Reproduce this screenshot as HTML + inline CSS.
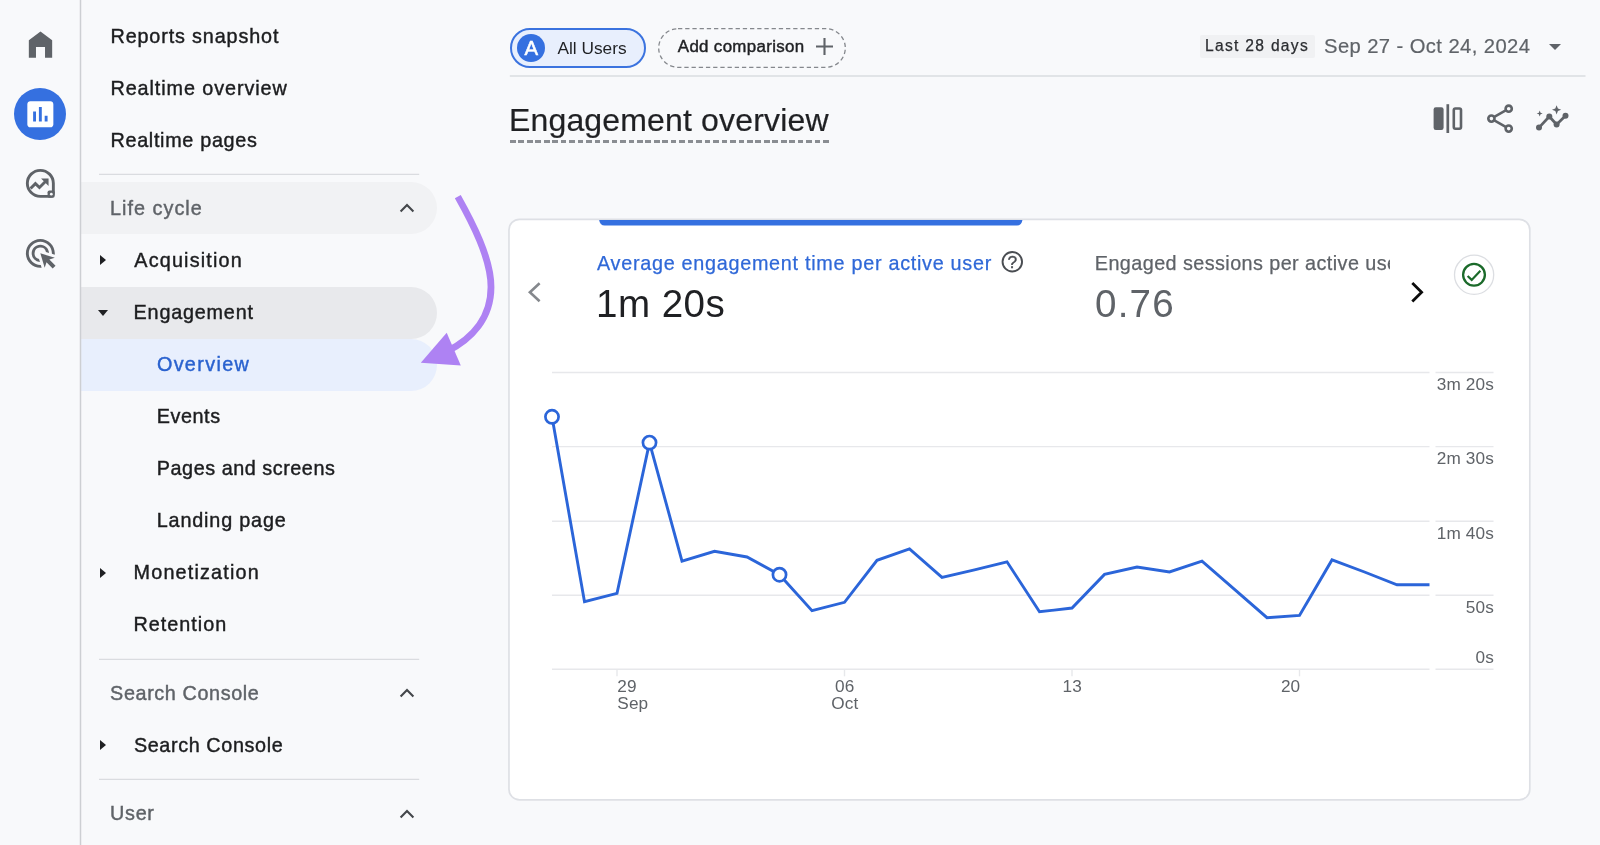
<!DOCTYPE html>
<html lang="en">
<head>
<meta charset="utf-8">
<title>Engagement overview</title>
<style>
*{box-sizing:border-box;margin:0;padding:0}
html,body{width:1600px;height:845px;overflow:hidden;background:#f8f9fb}
body{font-family:"Liberation Sans",Arial,sans-serif;color:#1f2023;position:relative;-webkit-font-smoothing:antialiased}
.abs{position:absolute}
#wrap{position:absolute;left:0;top:0;width:1600px;height:845px;will-change:transform}
/* ---------- left rail ---------- */
#rail{position:absolute;left:0;top:0;width:81px;height:845px;background:#f8f9fb}
#rail svg{position:absolute}
#rail .active{position:absolute;left:14px;top:88px;width:52px;height:52px;border-radius:50%;background:#3570e0}
/* ---------- sidebar ---------- */
#nav{position:absolute;left:81px;top:0;width:420px;height:845px}
.row{position:absolute;left:0;width:356px;height:52px;line-height:52px;font-size:19.8px;-webkit-text-stroke:.42px currentColor;white-space:nowrap;color:#1c1d1f;border-radius:0 26px 26px 0}
.row span{position:absolute;top:0}



.row.hdr{color:#5f6368}
.row.hdr.hov{background:#f1f2f4}
.row.open{background:#e8e9ec}
.row.sel{background:#e8effd;color:#2a62cf}
.tri{position:absolute;left:19px;top:21px;width:0;height:0;border-style:solid;border-width:5px 0 5px 6px;border-color:transparent transparent transparent #1f2023}
.tri.down{left:16.6px;top:23.3px;border-width:6px 5.2px 0 5.2px;border-color:#1f2023 transparent transparent transparent}
.chev{position:absolute;left:317.8px;top:18px;width:16px;height:16px}

/* ---------- main header ---------- */
#chipA{position:absolute;left:509.6px;top:27.8px;width:136.4px;height:39.8px;border-radius:19.9px;border:2px solid #3b73df;background:#e8effd}
#chipA .av{position:absolute;left:5.8px;top:4.6px;width:28px;height:28px;border-radius:50%;background:#3570e0;color:#fff;font-size:20.4px;line-height:28.4px;text-align:center;font-weight:400;-webkit-text-stroke:.5px #fff}
#chipA .t{position:absolute;left:45.8px;top:.6px;line-height:37.4px;font-size:17.3px;color:#1f2023;white-space:nowrap}
#chipB{position:absolute;left:658px;top:27.5px;width:188px;height:40px}
#chipB .t{position:absolute;left:19.8px;top:0;line-height:37.5px;font-size:16.9px;letter-spacing:.33px;color:#1f2023;white-space:nowrap;-webkit-text-stroke:.45px #1f2023}
#last{position:absolute;left:1200px;top:35px;width:115px;height:23px;background:#f0f1f3;border-radius:2px;font-size:15.6px;letter-spacing:1.3px;line-height:22px;color:#2b2d31;padding-left:5px;white-space:nowrap;-webkit-text-stroke:.25px #2b2d31}
#range{position:absolute;left:1324px;top:33px;font-size:20.2px;letter-spacing:.42px;line-height:26px;color:#5f6368;white-space:nowrap;-webkit-text-stroke:.2px #5f6368}
#caret{position:absolute;left:1548.8px;top:43.5px;width:0;height:0;border-style:solid;border-width:6px 6px 0 6px;border-color:#5f6368 transparent transparent transparent}
#title{position:absolute;left:509px;top:100px;font-size:32px;letter-spacing:.16px;-webkit-text-stroke:.2px #1c1d1f;line-height:40px;color:#1f2023;white-space:nowrap}
#tdash{position:absolute;left:510px;top:140.2px;width:319px;height:2.9px;background:repeating-linear-gradient(90deg,#8a8d92 0 5.64px,transparent 5.64px 8.465px)}

/* ---------- card ---------- */
.mlabel{position:absolute;top:250px;font-size:19.8px;-webkit-text-stroke:.25px currentColor;line-height:26px;white-space:nowrap}
.mval{position:absolute;top:280px;font-size:38.6px;line-height:48px;white-space:nowrap}
#chart text{font-family:"Liberation Sans",Arial,sans-serif;font-size:17.2px;fill:#5f6368;letter-spacing:.15px}
</style>
</head>
<body>
<div id="wrap">

<!-- ================= LEFT RAIL ================= -->
<div id="rail">
  <!-- home -->
  <svg style="left:23px;top:27px" width="35" height="35" viewBox="0 0 24 24"><path d="M4 21V9l8-6 8 6v12h-4.9v-7.3H8.9V21z" fill="#5f6368"/></svg>
  <!-- reports (active) -->
  <div class="active"></div>
  <svg style="left:22.7px;top:96.7px" width="34.7" height="34.7" viewBox="0 0 24 24"><path d="M19 3H5c-1.1 0-2 .9-2 2v14c0 1.1.9 2 2 2h14c1.1 0 2-.9 2-2V5c0-1.1-.9-2-2-2zM9 17H7v-7h2v7zm4 0h-2V7h2v10zm4 0h-2v-4h2v4z" fill="#fff"/></svg>
  <!-- explore -->
  <svg style="left:23.3px;top:166.2px" width="34.7" height="34.7" viewBox="0 0 24 24" fill="none" stroke="#5f6368" stroke-width="2">
    <path d="M12 3a9 9 0 1 0 0 18h7.2a1.8 1.8 0 0 0 1.8-1.8V12a9 9 0 0 0-9-9z"/>
    <rect x="17" y="17" width="4.9" height="4.9" rx="1.2" fill="#5f6368" stroke="none"/>
    <path d="M5.2 15.6L8.6 12.2l2.8 2.7 4.5-4.5" stroke-width="2"/>
    <path d="M12.5 8.7h5.2v5.2z" fill="#5f6368" stroke="none"/>
    <circle cx="19.6" cy="19.5" r="0.95" fill="#f8f9fb" stroke="none"/>
  </svg>
  <!-- advertising -->
  <svg style="left:23.3px;top:236px" width="34.7" height="34.7" viewBox="0 0 24 24"><path fill="#5f6368" d="M11.71 17.99A5.993 5.993 0 0 1 6 12c0-3.31 2.69-6 6-6 3.22 0 5.84 2.53 5.99 5.71l-2.1-.63a3.999 3.999 0 1 0-4.81 4.81l.63 2.1zM22 12c0 .3-.01.6-.04.9l-1.97-.59c.01-.1.01-.21.01-.31 0-4.42-3.58-8-8-8s-8 3.58-8 8 3.58 8 8 8c.1 0 .21 0 .31-.01l.59 1.97c-.3.03-.6.04-.9.04-5.52 0-10-4.48-10-10S6.480 2 12 2s10 4.480 10 10zm-3.770 4.260L22 15l-10-3 3 10 1.260-3.770 4.270 4.270 1.980-1.980-4.280-4.260z"/></svg>
</div>

<!-- ================= SIDEBAR NAV ================= -->
<div id="nav">
  <div class="row l0" style="top:10px"><span style="left:29.50px;top:0px;letter-spacing:0.856px">Reports snapshot</span></div>
  <div class="row l0" style="top:62px"><span style="left:29.50px;top:0px;letter-spacing:0.918px">Realtime overview</span></div>
  <div class="row l0" style="top:114px"><span style="left:29.50px;top:0px;letter-spacing:0.688px">Realtime pages</span></div>
  <div class="row l0 hdr hov" style="top:182.4px"><span style="left:29.00px;top:0px;letter-spacing:1.039px">Life cycle</span><svg class="chev" viewBox="0 0 16 16"><path d="M1.6 11.4l6.4-6.4 6.4 6.4" fill="none" stroke="#44474b" stroke-width="2.1"/></svg></div>
  <div class="row l1" style="top:234.4px"><i class="tri"></i><span style="left:53.30px;top:0px;letter-spacing:1.180px">Acquisition</span></div>
  <div class="row l1 open" style="top:286.5px"><i class="tri down"></i><span style="left:52.60px;top:-0.7px;letter-spacing:0.795px">Engagement</span></div>
  <div class="row l2 sel" style="top:338.6px"><span style="left:75.90px;top:-0.7px;letter-spacing:1.350px">Overview</span></div>
  <div class="row l2" style="top:390.4px"><span style="left:75.80px;top:0px;letter-spacing:0.550px">Events</span></div>
  <div class="row l2" style="top:442.4px"><span style="left:75.80px;top:0px;letter-spacing:0.544px">Pages and screens</span></div>
  <div class="row l2" style="top:494.4px"><span style="left:75.80px;top:0px;letter-spacing:0.822px">Landing page</span></div>
  <div class="row l1" style="top:546.6px"><i class="tri"></i><span style="left:52.60px;top:-0.7px;letter-spacing:1.179px">Monetization</span></div>
  <div class="row l1" style="top:598.5px"><span style="left:52.60px;top:-0.7px;letter-spacing:0.988px">Retention</span></div>
  <div class="row l0 hdr" style="top:667.2px"><span style="left:29.10px;top:0px;letter-spacing:0.612px">Search Console</span><svg class="chev" viewBox="0 0 16 16"><path d="M1.6 11.4l6.4-6.4 6.4 6.4" fill="none" stroke="#44474b" stroke-width="2.1"/></svg></div>
  <div class="row l1" style="top:719.1px"><i class="tri"></i><span style="left:52.90px;top:0px;letter-spacing:0.616px">Search Console</span></div>
  <div class="row l0 hdr" style="top:787.5px"><span style="left:29.10px;top:-0.7px;letter-spacing:0.684px">User</span><svg class="chev" viewBox="0 0 16 16"><path d="M1.6 11.4l6.4-6.4 6.4 6.4" fill="none" stroke="#44474b" stroke-width="2.1"/></svg></div>
</div>

<!-- ================= MAIN HEADER ================= -->
<div id="chipA"><div class="av">A</div><div class="t">All Users</div></div>
<div id="chipB">
  <svg class="abs" style="left:0;top:0" width="188" height="40" viewBox="0 0 188 40"><rect x="0.7" y="0.7" width="186.6" height="38.6" rx="19.3" fill="none" stroke="#85888d" stroke-width="1.3" stroke-dasharray="4.3 2.9"/>
  <path d="M158 18.5h17M166.5 10v17" stroke="#5f6368" stroke-width="2.1" fill="none"/></svg>
  <div class="t">Add comparison</div>
</div>
<svg class="abs" style="left:0;top:0;pointer-events:none" width="1600" height="845" viewBox="0 0 1600 845" fill="none"><path d="M80.5 0V845" stroke="#cdcfd3" stroke-width="1.5"/><path d="M509.8 75.9H1585.5" stroke="#dadce0" stroke-width="1.5"/><path d="M99 174.35H419.2M99 659.3H419.2M99 779.3H419.2" stroke="#dadce0" stroke-width="1.35"/></svg>
<div id="last">Last 28 days</div>
<div id="range">Sep 27 - Oct 24, 2024</div>
<div id="caret"></div>
<div id="title">Engagement overview</div>
<div id="tdash"></div>
<!-- header icons -->
<svg class="abs" style="left:1425px;top:98px" width="150" height="42" viewBox="1425 98 150 42" fill="none" stroke="#5f6368" stroke-width="2.6">
  <!-- compare -->
  <rect x="1433.6" y="107.2" width="10" height="22.8" rx="2.2" fill="#5f6368" stroke="none"/>
  <path d="M1447.8 104.2v28.8" stroke-width="2.7"/>
  <rect x="1453.8" y="108.5" width="7.2" height="20.2" rx="1.6"/>
  <!-- share -->
  <path d="M1494.3 116.9l11.4-6.5M1494.3 120.4l11.4 6.5" stroke-width="2.5"/>
  <circle cx="1508.7" cy="108.7" r="3.1"/><circle cx="1491.4" cy="118.6" r="3.1"/><circle cx="1508.7" cy="128.6" r="3.1"/>
  <!-- insights -->
  <path d="M1539 127.6l10.3-11.1 7.3 8 8.9-8.8" stroke-width="2.7" stroke-linejoin="round"/>
  <g fill="#5f6368" stroke="none"><circle cx="1539" cy="127.6" r="3"/><circle cx="1549.3" cy="116.5" r="3"/><circle cx="1556.6" cy="124.5" r="3"/><circle cx="1565.5" cy="115.7" r="3"/>
  <path d="M1556.6 105.2l1.3 3.3 3.3 1.3-3.3 1.3-1.3 3.3-1.3-3.3-3.3-1.3 3.3-1.3z"/>
  <path d="M1539.7 110.5l.85 2.15 2.15.85-2.15.85-.85 2.15-.85-2.15-2.15-.85 2.15-.85z"/></g>
</svg>


<!-- ================= CARD ================= -->
<svg class="abs" style="left:500px;top:210px" width="1040" height="600" viewBox="500 210 1040 600"><rect x="508.95" y="219.35" width="1020.85" height="580.5" rx="10.6" fill="#fff" stroke="#dee0e5" stroke-width="1.7"/><path d="M599.3 220H1022.3V220.3a5.3 5.3 0 0 1-5.3 5.3H604.6a5.3 5.3 0 0 1-5.3-5.3z" fill="#3570e0"/></svg>
<svg class="abs" style="left:526px;top:280px" width="18" height="24" viewBox="0 0 18 24"><path d="M13.6 3.2L3.9 12.2l9.7 9" fill="none" stroke="#85888d" stroke-width="2.6"/></svg>
<div class="mlabel" style="left:597px;color:#2f68d8;letter-spacing:.72px">Average engagement time per active user</div>
<svg class="abs" style="left:1000px;top:250px" width="24" height="24" viewBox="0 0 24 24"><circle cx="12.3" cy="11.7" r="9.75" fill="none" stroke="#4a4d52" stroke-width="1.9"/><text x="12.3" y="18.2" text-anchor="middle" font-family="Liberation Sans, Arial, sans-serif" font-size="17.4" fill="#4a4d52" stroke="#4a4d52" stroke-width=".35">?</text></svg>
<div class="mval" style="left:596px;color:#1f2023;letter-spacing:.45px">1m 20s</div>
<div class="mlabel" style="left:1094.8px;color:#5f6368;letter-spacing:.43px;width:295.6px;overflow:hidden">Engaged sessions per active user</div>
<div class="mval" style="left:1095px;color:#5f6368;letter-spacing:1.2px">0.76</div>
<svg class="abs" style="left:1406px;top:279px" width="22" height="26" viewBox="0 0 22 26"><path d="M6.3 4.1l9.3 9.2-9.3 9.2" fill="none" stroke="#0b0b0b" stroke-width="2.8"/></svg>
<!-- status badge -->
<svg class="abs" style="left:1450px;top:251px" width="48" height="48" viewBox="0 0 48 48"><circle cx="24.1" cy="23.8" r="19.6" fill="#fff" stroke="#dcdee2" stroke-width="1.3"/><circle cx="24" cy="23.8" r="10.9" fill="none" stroke="#1b6a2a" stroke-width="2.3"/><path d="M17.6 25l4.1 3.9 8.7-9.1" fill="none" stroke="#1b6a2a" stroke-width="2.2"/></svg>

<svg id="chart" class="abs" style="left:0;top:0" width="1600" height="845" viewBox="0 0 1600 845">
  <g fill="none" stroke="#e7e8eb" stroke-width="1.4"><path d="M552 372.5H1429.5M1435.5 372.5H1493.5"/><path d="M552 446.6H1429.5M1435.5 446.6H1493.5"/><path d="M552 521.3H1429.5M1435.5 521.3H1493.5"/><path d="M552 595.3H1429.5M1435.5 595.3H1493.5"/><path d="M552 669.3H1429.5M1435.5 669.3H1493.5"/><path d="M617 669.3v7"/><path d="M844.5 669.3v7"/><path d="M1072 669.3v7"/><path d="M1299.5 669.3v7"/></g>
  <text x="1494" y="389.7" text-anchor="end">3m 20s</text><text x="1494" y="463.8" text-anchor="end">2m 30s</text><text x="1494" y="538.5" text-anchor="end">1m 40s</text><text x="1494" y="612.5" text-anchor="end">50s</text><text x="1494" y="663.4" text-anchor="end">0s</text><text x="617.3" y="691.6">29</text><text x="617.3" y="709">Sep</text><text x="844.8" y="691.6" text-anchor="middle">06</text><text x="844.8" y="709" text-anchor="middle">Oct</text><text x="1072.3" y="691.6" text-anchor="middle">13</text><text x="1300.3" y="691.6" text-anchor="end">20</text>
  <polyline points="552.0,416.8 584.5,601.7 617.0,593.4 649.5,442.6 682.0,561.1 714.5,551.3 747.0,557.0 779.5,574.7 812.0,610.6 844.5,602.3 877.0,560.3 909.5,549.0 942.0,577.3 974.5,569.9 1007.0,561.8 1039.5,611.8 1072.0,608.0 1104.5,574.4 1137.0,567.0 1169.5,572.0 1202.0,561.2 1234.5,589.3 1267.0,617.7 1299.5,615.4 1332.0,559.9 1364.5,572.0 1397.0,584.8 1429.5,584.8" fill="none" stroke="#2b65d9" stroke-width="2.9" stroke-linejoin="miter"/>
  <g fill="#fff" stroke="#2b65d9" stroke-width="2.7"><circle cx="552.0" cy="416.8" r="6.6"/><circle cx="649.5" cy="442.6" r="6.6"/><circle cx="779.5" cy="574.7" r="6.6"/></g>
</svg>


<!-- ================= ANNOTATION ARROW ================= -->
<svg class="abs" style="left:400px;top:180px" width="110" height="200" viewBox="400 180 110 200">
  <path d="M457.8 196.6C472 222 491 258 491 287C491 318 472 339 446 352" fill="none" stroke="#ae82f3" stroke-width="6.8"/>
  <path d="M420.8 362.7L446.7 332.7L460.8 365.4Z" fill="#ae82f3"/>
</svg>




</div>
</body>
</html>
